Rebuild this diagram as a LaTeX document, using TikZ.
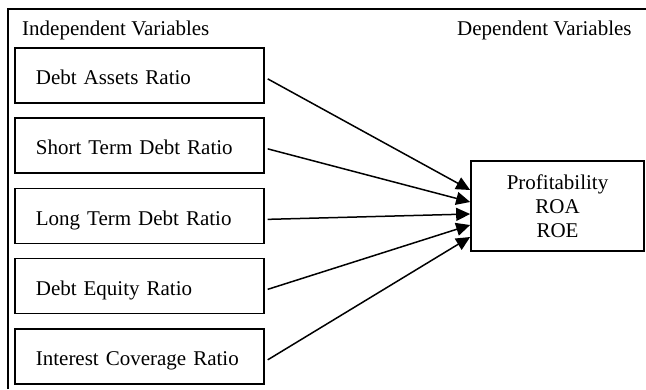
\documentclass[tikz,border=0pt]{standalone}
\usepackage{fontspec}
\setmainfont{Liberation Serif}
\usetikzlibrary{arrows.meta}
\begin{document}
\begin{tikzpicture}[x=1pt,y=-1pt,
  font=\fontsize{21}{24}\selectfont,
  varbox/.style={draw, line width=1.7pt, rectangle, minimum height=55pt,
    text width=207pt, inner xsep=21pt, inner ysep=2pt, align=left, anchor=north west,
    text height=19pt, text depth=0pt},
  depbox/.style={draw, line width=1.7pt, rectangle, minimum width=173pt,
    minimum height=90pt, align=center},
  conn/.style={line width=1.5pt, -{Triangle[length=14pt,width=13pt]}},
  title/.style={anchor=base west, inner sep=0pt}]
\useasboundingbox (0,0) rectangle (646,389);
\draw[line width=1.5pt] (8,389) -- (8,9) -- (646,9);
\node[title] (ti) at (22,35) {Independent Variables};
\node[title] (td) at (457,35) {Dependent Variables};
\node[varbox] (b1) at (14,47) {Debt Assets Ratio};
\node[varbox] (b2) at (14,117) {Short Term Debt Ratio};
\node[varbox] (b3) at (14,187.5) {Long Term Debt Ratio};
\node[varbox] (b4) at (14,257.5) {Debt Equity Ratio};
\node[varbox] (b5) at (14,328) {Interest Coverage Ratio};
\node[depbox] (p) at (557.5,206) {Profitability\\ROA\\ROE};
\coordinate (t1) at ([yshift=16pt]p.west);
\coordinate (t2) at ([yshift=4pt]p.west);
\coordinate (t3) at ([yshift=-8pt]p.west);
\coordinate (t4) at ([yshift=-19pt]p.west);
\coordinate (t5) at ([yshift=-31pt]p.west);
\foreach \i in {1,...,5}{
  \draw[conn] ([xshift=3pt,yshift=-3.5pt]b\i.east) -- (t\i);
}
\end{tikzpicture}
\end{document}
